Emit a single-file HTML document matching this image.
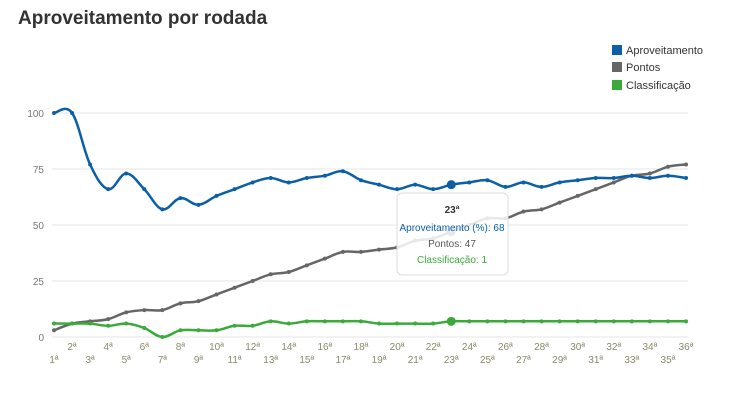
<!DOCTYPE html>
<html><head><meta charset="utf-8"><style>
body{margin:0;background:#fff;font-family:"Liberation Sans",sans-serif;}
</style></head><body>
<svg id="c" width="730" height="400" xmlns="http://www.w3.org/2000/svg" font-family="Liberation Sans, sans-serif">
<text x="18" y="24" font-size="19" font-weight="bold" fill="#333">Aproveitamento por rodada</text>
<rect x="612" y="45" width="10" height="10" fill="#0a5fa6"/><text x="626" y="54" font-size="11" fill="#333">Aproveitamento</text>
<rect x="612" y="62" width="10" height="10" fill="#666"/><text x="626" y="71" font-size="11" fill="#333">Pontos</text>
<rect x="612" y="80" width="10" height="10" fill="#3aaa3a"/><text x="626" y="89" font-size="11" fill="#333">Classificação</text>
<g id="g"></g>
</svg>
<script>
var A=[100,100,77,66,73,66,57,62,59,63,66,69,71,69,71,72,74,70,68,66,68,66,68,69,70,67,69,67,69,70,71,71,72,71,72,71];
var P=[3,6,7,8,11,12,12,15,16,19,22,25,28,29,32,35,38,38,39,40,43,44,47,50,53,53,56,57,60,63,66,69,72,73,76,77];
var C=[6,6,6,5,6,4,0,3,3,3,5,5,7,6,7,7,7,7,6,6,6,6,7,7,7,7,7,7,7,7,7,7,7,7,7,7];
var s='';function X(i){return 54+i*632/35}function Y(v){return 337-v*2.24}
[0,25,50,75,100].forEach(function(v){s+='<line x1="52" x2="688" y1="'+Y(v)+'" y2="'+Y(v)+'" stroke="#e6e6e6"/>';s+='<text x="44" y="'+(Y(v)+4)+'" font-size="10" fill="#777" text-anchor="end">'+v+'</text>';});
for(var i=0;i<36;i++){s+='<text x="'+X(i)+'" y="'+(i%2?350:363)+'" font-size="10" fill="#8a8a6a" text-anchor="middle">'+(i+1)+'ª</text>';}
function line(d,c){var pts=d.map(function(v,i){return[X(i),Y(v)]});var p='M'+pts[0][0]+','+pts[0][1];var t=0.18;
for(var i=0;i<pts.length-1;i++){var p0=pts[Math.max(i-1,0)],p1=pts[i],p2=pts[i+1],p3=pts[Math.min(i+2,pts.length-1)];
p+='C'+(p1[0]+(p2[0]-p0[0])*t).toFixed(1)+','+(p1[1]+(p2[1]-p0[1])*t).toFixed(1)+' '+(p2[0]-(p3[0]-p1[0])*t).toFixed(1)+','+(p2[1]-(p3[1]-p1[1])*t).toFixed(1)+' '+p2[0].toFixed(1)+','+p2[1].toFixed(1);}
s+='<path d="'+p+'" fill="none" stroke="'+c+'" stroke-width="2.5" stroke-linejoin="round"/>';d.forEach(function(v,i){s+='<circle cx="'+X(i)+'" cy="'+Y(v)+'" r="'+(i==22?4.5:2)+'" fill="'+c+'"/>'});}
line(P,'#666');line(C,'#3aaa3a');line(A,'#0a5fa6');
s+='<rect x="397" y="193" width="111" height="82" rx="5" fill="#fff" fill-opacity="0.85" stroke="#ddd"/>';
s+='<text x="452" y="213" font-size="10" font-weight="bold" fill="#333" text-anchor="middle">23ª</text>';
s+='<text x="452" y="231" font-size="10" fill="#0a5fa6" text-anchor="middle">Aproveitamento (%): 68</text>';
s+='<text x="452" y="247" font-size="10" fill="#555" text-anchor="middle">Pontos: 47</text>';
s+='<text x="452" y="263" font-size="10" fill="#3aaa3a" text-anchor="middle">Classificação: 1</text>';
document.getElementById('g').innerHTML=s;
</script>
</body></html>
